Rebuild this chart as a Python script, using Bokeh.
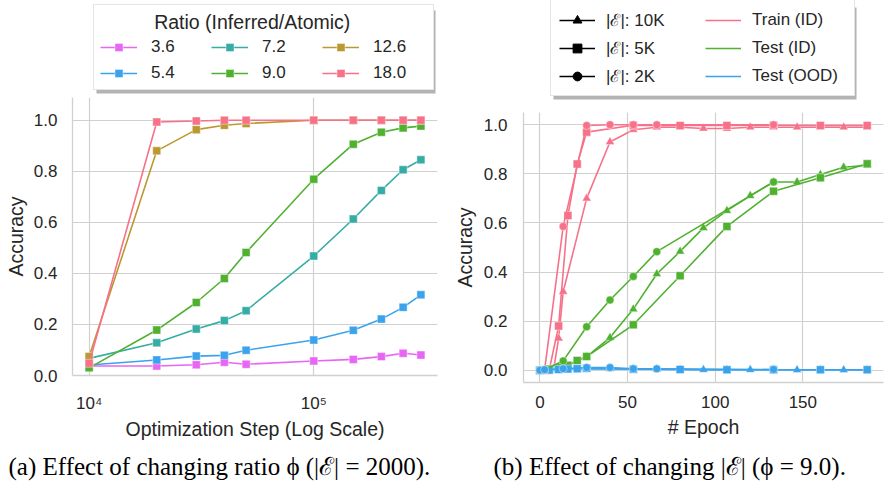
from bokeh.plotting import figure
from bokeh.models import (Range1d, Legend, LegendItem, Label, BoxAnnotation, FixedTicker,
                          CustomJSTickFormatter, NumeralTickFormatter)
from bokeh.layouts import row, column
from bokeh.embed import file_html
from bokeh.resources import INLINE

# ---------------- data: left panel ----------------
steps = [1e4, 2e4, 3e4, 4e4, 5e4, 1e5, 1.5e5, 2e5, 2.5e5, 3e5]
ratio_labels = ["3.6", "5.4", "7.2", "9.0", "12.6", "18.0"]
acc_3_6 = [0.037, 0.037, 0.042, 0.052, 0.044, 0.057, 0.063, 0.074, 0.087, 0.080]
acc_5_4 = [0.041, 0.061, 0.076, 0.079, 0.099, 0.139, 0.177, 0.221, 0.267, 0.316]
acc_7_2 = [0.067, 0.128, 0.182, 0.215, 0.254, 0.468, 0.613, 0.725, 0.806, 0.845]
acc_9_0 = [0.030, 0.178, 0.286, 0.380, 0.482, 0.769, 0.906, 0.953, 0.970, 0.977]
acc_12_6 = [0.074, 0.880, 0.963, 0.980, 0.987, 1.0, 1.0, 1.0, 1.0, 1.0]
acc_18_0 = [0.048, 0.993, 0.997, 1.0, 1.0, 1.0, 1.0, 1.0, 1.0, 1.0]
ratio_series = [acc_3_6, acc_5_4, acc_7_2, acc_9_0, acc_12_6, acc_18_0]
ratio_colors = ["#e866f4", "#3ba3ec", "#36ada4", "#50b131", "#bb9832", "#f77189"]

# ---------------- data: right panel ----------------
ep_10k = [0, 2.7, 5.3, 8, 10.7, 13.3, 26.7, 40, 53.3, 66.7, 80, 93.3, 106.7,
          120, 133.3, 146.7, 160, 173.3, 186.7]
train_10k = [0, 0, 0, 0.01, 0.13, 0.32, 0.70, 0.93, 0.98, 0.99, 0.99, 0.985,
             0.985, 0.99, 0.99, 0.99, 0.99, 0.99, 0.99]
test_id_10k = [0, 0, 0, 0.005, 0.01, 0.01, 0.055, 0.133, 0.249, 0.392, 0.484,
               0.58, 0.65, 0.711, 0.767, 0.767, 0.797, 0.827, 0.835]
ood_10k = [0, 0, 0, 0, 0.002, 0.003, 0.005, 0.006, 0.005, 0.004, 0.003, 0.002,
           0.002, 0.002, 0.002, 0.001, 0.001, 0.001, 0.001]

ep_5k = [0, 5.3, 10.7, 16, 21.3, 26.7, 53.3, 80, 106.7, 133.3, 160, 186.7]
train_5k = [0, 0, 0.18, 0.63, 0.84, 0.97, 0.998, 0.997, 0.997, 0.998, 0.997, 0.997]
test_id_5k = [0, 0.005, 0.01, 0.02, 0.04, 0.056, 0.185, 0.385, 0.586, 0.729, 0.784, 0.841]
ood_5k = [0, 0.001, 0.003, 0.005, 0.006, 0.008, 0.004, 0.003, 0.002, 0.002, 0.002, 0.002]

ep_2k = [0, 2.7, 13.3, 26.7, 40, 53.3, 66.7, 133.3]
train_2k = [0, 0, 0.586, 0.997, 1.0, 1.0, 1.0, 1.0]
test_id_2k = [0, 0.003, 0.038, 0.177, 0.286, 0.382, 0.483, 0.767]
ood_2k = [0, 0.002, 0.006, 0.011, 0.011, 0.006, 0.006, 0.003]

size_labels = ["|\u2130|: 10K", "|\u2130|: 5K", "|\u2130|: 2K"]
size_markers = ["triangle", "square", "circle"]
split_labels = ["Train (ID)", "Test (ID)", "Test (OOD)"]
split_colors = ["#f77189", "#50b131", "#3ba3ec"]

y_ticks = [0.0, 0.2, 0.4, 0.6, 0.8, 1.0]
x_ticks_epoch = [0, 50, 100, 150]
x_ticks_log = [1e4, 1e5]

caption_a = "(a) Effect of changing ratio \u03d5 (|\u2130| = 2000)."
caption_b = "(b) Effect of changing |\u2130| (\u03d5 = 9.0)."
legend_title = "Ratio (Inferred/Atomic)"

SANS = "Liberation Sans"
SERIF = "Liberation Serif"
GRID = "#d0d0d0"
TXT = "#262626"
NAN = [float("nan")]


def no_align(p):
    if hasattr(p, "frame_align"):
        p.frame_align = False


def blank_fig(x0, x1, y0, y1):
    """A figure whose whole canvas is the frame; data units = page pixels."""
    f = figure(frame_width=int(x1 - x0), frame_height=int(y1 - y0),
               x_range=Range1d(x0, x1), y_range=Range1d(y1, y0),
               x_axis_location=None, y_axis_location=None, title=None,
               output_backend="svg", toolbar_location=None,
               min_border=0, min_border_left=0, min_border_right=0,
               min_border_top=0, min_border_bottom=0)
    f.outline_line_color = None
    f.background_fill_color = "white"
    f.border_fill_color = "white"
    f.xgrid.visible = False
    f.ygrid.visible = False
    no_align(f)
    return f


def style(p):
    p.outline_line_color = None
    p.background_fill_color = "white"
    p.border_fill_color = "white"
    for ax in p.axis:
        ax.axis_line_color = GRID
        ax.axis_line_width = 1.3
        ax.major_tick_in = 0
        ax.major_tick_out = 0
        ax.minor_tick_in = 0
        ax.minor_tick_out = 0
        ax.major_tick_line_color = None
        ax.minor_tick_line_color = None
        ax.major_label_text_font = SANS
        ax.major_label_text_font_size = "17px"
        ax.major_label_text_color = TXT
        ax.axis_label_text_font = SANS
        ax.axis_label_text_font_size = "19.5px"
        ax.axis_label_text_font_style = "normal"
        ax.axis_label_text_color = TXT
    p.xgrid.grid_line_color = GRID
    p.ygrid.grid_line_color = GRID
    p.xgrid.grid_line_width = 1.2
    p.ygrid.grid_line_width = 1.2
    p.xgrid.minor_grid_line_color = None
    p.yaxis.ticker = FixedTicker(ticks=y_ticks)
    p.yaxis.formatter = NumeralTickFormatter(format="0.0")
    no_align(p)


# ======================= left column =======================
leg1_fig = blank_fig(0, 450, 0, 94)
p1 = figure(frame_width=365, frame_height=278, x_axis_type="log", title=None,
            x_range=Range1d(10 ** 3.926, 10 ** 5.551), y_range=Range1d(0, 1.089),
            output_backend="svg", toolbar_location=None,
            min_border_left=72, min_border_right=13, min_border_top=3, min_border_bottom=72)
style(p1)
p1.xaxis.ticker = FixedTicker(ticks=x_ticks_log)
p1.xaxis.formatter = CustomJSTickFormatter(code="""
const e = Math.round(Math.log10(tick));
const sup = {"0":"\u2070","1":"\u00b9","2":"\u00b2","3":"\u00b3","4":"\u2074","5":"\u2075","6":"\u2076","7":"\u2077","8":"\u2078","9":"\u2079"};
return "10" + String(e).split("").map(c => sup[c]).join("");
""")
p1.xaxis.axis_label = "Optimization Step (Log Scale)"
p1.yaxis.axis_label = "Accuracy"
p1.yaxis.major_label_standoff = 15
p1.yaxis.axis_label_standoff = 4
p1.xaxis.major_label_standoff = 18
p1.xaxis.axis_label_standoff = 2

for ys, col in zip(ratio_series, ratio_colors):
    p1.line(steps, ys, line_color=col, line_width=1.6)
    p1.scatter(steps, ys, marker="square", size=8, fill_color=col,
               line_color="white", line_width=0.6, line_alpha=0.7)

left_items = []
for lab, col in zip(ratio_labels, ratio_colors):
    l = leg1_fig.line(x=NAN, y=NAN, line_color=col, line_width=1.6)
    s = leg1_fig.scatter(x=NAN, y=NAN, marker="square", size=8, fill_color=col,
                         line_color="white", line_width=0.6, line_alpha=0.7)
    left_items.append(LegendItem(label=lab, renderers=[l, s]))

leg1_fig.add_layout(BoxAnnotation(left=96, right=435, top=10, bottom=93,
                                  fill_color="#9a9a9a", fill_alpha=0.75, line_color=None))
leg1 = Legend(items=left_items, orientation="vertical", nrows=2,
              location=(93, 4),
              title="\u00a0" * 10 + legend_title,
              title_text_font=SANS, title_text_font_size="19.5px", title_standoff=3,
              title_text_color=TXT, title_text_font_style="normal",
              label_text_font=SANS, label_text_font_size="17px", label_text_color=TXT,
              glyph_width=37, glyph_height=20, label_height=20, label_width=54,
              label_standoff=14, spacing=6, padding=6, margin=0,
              border_line_color="#cccccc", border_line_width=1,
              background_fill_color="white", background_fill_alpha=1.0)
leg1_fig.add_layout(leg1, "center")

cap1_fig = blank_fig(0, 450, 447, 481)
cap1_fig.add_layout(Label(x=8, y=466, text=caption_a, text_align="left",
                          text_baseline="middle", text_font=SERIF,
                          text_font_size="25px", text_color="black"))

# ======================= right column =======================
leg2_fig = blank_fig(450, 884, 0, 100)
p2 = figure(frame_width=360, frame_height=270, title=None,
            x_range=Range1d(-9.33, 196), y_range=Range1d(-0.05, 1.05),
            output_backend="svg", toolbar_location=None,
            min_border_left=71, min_border_right=3, min_border_top=12, min_border_bottom=65)
style(p2)
p2.xaxis.ticker = FixedTicker(ticks=x_ticks_epoch)
p2.xaxis.axis_label = "# Epoch"
p2.yaxis.axis_label = "Accuracy"
p2.yaxis.major_label_standoff = 16
p2.yaxis.axis_label_standoff = 5
p2.xaxis.major_label_standoff = 13
p2.xaxis.axis_label_standoff = 5

size_data = [
    (ep_10k, [train_10k, test_id_10k, ood_10k]),
    (ep_5k, [train_5k, test_id_5k, ood_5k]),
    (ep_2k, [train_2k, test_id_2k, ood_2k]),
]
msize = {"triangle": 9, "square": 8, "circle": 8}
for (eps, splits), mk in zip(size_data, size_markers):
    for ys, col in zip(splits, split_colors):
        p2.line(eps, ys, line_color=col, line_width=1.6)
        p2.scatter(eps, ys, marker=mk, size=msize[mk], fill_color=col,
                   line_color="white", line_width=0.6, line_alpha=0.7)

right_items = []
for lab, mk in zip(size_labels, size_markers):
    pl = leg2_fig.line(x=NAN, y=NAN, line_color="black", line_width=1.6)
    ps = leg2_fig.scatter(x=NAN, y=NAN, marker=mk, size=msize[mk], color="black")
    right_items.append(LegendItem(label=lab, renderers=[pl, ps]))
for lab, col in zip(split_labels, split_colors):
    r = leg2_fig.line(x=NAN, y=NAN, line_color=col, line_width=1.6)
    right_items.append(LegendItem(label=lab, renderers=[r]))

leg2_fig.add_layout(BoxAnnotation(left=553, right=856, top=7, bottom=99,
                                  fill_color="#9a9a9a", fill_alpha=0.75, line_color=None))
leg2 = Legend(items=right_items, orientation="vertical", nrows=3,
              location=(100, 4),
              label_text_font=SANS, label_text_font_size="17px", label_text_color=TXT,
              glyph_width=36, glyph_height=22, label_height=22, label_width=94,
              label_standoff=11, spacing=5, padding=8, margin=0,
              border_line_color="#cccccc", border_line_width=1,
              background_fill_color="white", background_fill_alpha=1.0)
leg2_fig.add_layout(leg2, "center")

cap2_fig = blank_fig(450, 884, 447, 481)
cap2_fig.add_layout(Label(x=493, y=466, text=caption_b, text_align="left",
                          text_baseline="middle", text_font=SERIF,
                          text_font_size="25px", text_color="black"))

layout = row(column(leg1_fig, p1, cap1_fig, spacing=0),
             column(leg2_fig, p2, cap2_fig, spacing=0), spacing=0)
with open("out.html", "w", encoding="utf-8") as f:
    f.write(file_html(layout, INLINE))
